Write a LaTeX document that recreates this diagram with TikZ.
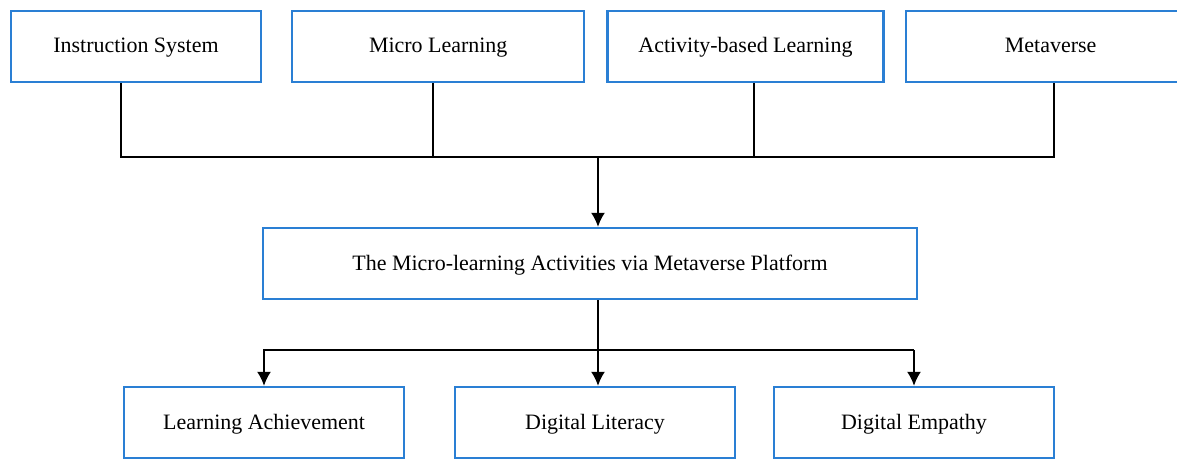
\documentclass[tikz,border=0pt]{standalone}
\usepackage{fontspec}
\setmainfont{Liberation Serif}
\usetikzlibrary{arrows.meta,positioning}
\definecolor{BoxBlue}{HTML}{2A7FD4}
\tikzset{
 block/.style={draw=BoxBlue, line width=1.3pt, fill=white, minimum height=1.42cm, align=center, inner sep=4pt, text height=0.84em, text depth=0.1em, font=\fontsize{12.5}{15}\selectfont},
 link/.style={draw=black, line width=1.1pt},
 arrow/.style={link, -{Latex[length=8pt,width=8pt]}}
}
\begin{document}
\begin{tikzpicture}[x=0.02cm,y=-0.02cm]
\useasboundingbox (0,0) rectangle (1177,459);
% four inputs
\node[block,minimum width=5.0cm] (sys) at (136,46.5) {Instruction System};
\node[block,minimum width=5.84cm,right=0.58cm of sys] (micro) {Micro Learning};
\node[block,minimum width=5.52cm,right=0.42cm of micro] (activity) {Activity-based Learning};
\node[block,minimum width=5.8cm,right=0.4cm of activity] (meta) {Metaverse};
% platform
\node[block,minimum width=13.08cm] (platform) at (590,263.5) {The Micro-learning Activities via Metaverse Platform};
% outcomes
\node[block,minimum width=5.6cm] (achieve) at (264,422.5) {Learning Achievement};
\node[block,minimum width=5.6cm] (literacy) at (595,422.5) {Digital Literacy};
\node[block,minimum width=5.6cm] (empathy) at (914,422.5) {Digital Empathy};
\coordinate (busL) at (121,157);
\coordinate (busR) at (1054,157);
\coordinate (split) at (598,350);
\draw[link] (sys.south -| busL) -- (busL) -- (busR) -- (meta.south -| busR);
\draw[link] ([xshift=-0.1cm]micro.south) -- ([xshift=-0.1cm]micro.south |- busL);
\draw[link] ([xshift=0.17cm]activity.south) -- ([xshift=0.17cm]activity.south |- busL);
\draw[arrow] (split |- busL) -- (split |- platform.north);
\draw[arrow] (split |- platform.south) -- (split |- literacy.north);
\draw[arrow] (empathy.north |- split) -- (achieve.north |- split) -- (achieve.north);
\draw[arrow] (empathy.north |- split) -- (empathy.north);
\end{tikzpicture}
\end{document}
